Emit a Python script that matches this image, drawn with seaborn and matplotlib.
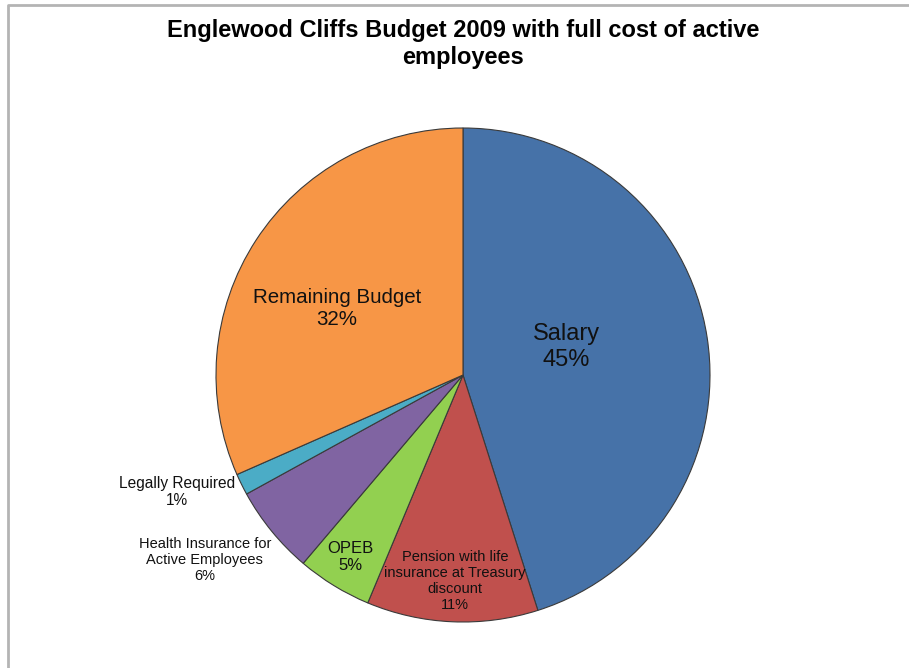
import matplotlib
matplotlib.use("Agg")
import matplotlib.pyplot as plt
from matplotlib.lines import Line2D
import seaborn as sns

categories = ["Salary", "Pension with life\ninsurance at Treasury\ndiscount", "OPEB",
              "Health Insurance for\nActive Employees", "Legally Required", "Remaining Budget"]
shares = [45.1, 11.2, 4.9, 5.8, 1.4, 31.6]
colors = ["#4672A8", "#C0504D", "#92D050", "#8064A2", "#4BACC6", "#F79646"]
title = "Englewood Cliffs Budget 2009 with full cost of active\nemployees"

sns.set_theme(style="white")
plt.rcParams["font.family"] = ["Liberation Sans", "DejaVu Sans"]

W, H = 909, 668
fig = plt.figure(figsize=(W / 100, H / 100), dpi=100)
fig.patch.set_facecolor("white")

cx, cy, r = 463, 375, 247
ax = fig.add_axes([(cx - r) / W, (H - cy - r) / H, 2 * r / W, 2 * r / H])
ax.set_aspect("equal")

wedges, _ = ax.pie(shares, colors=colors, startangle=90, counterclock=False,
                   wedgeprops=dict(edgecolor="#3a3a3a", linewidth=0.8), radius=1.0)
ax.set_xlim(-1, 1)
ax.set_ylim(-1, 1)

# label placement (in radius units) and font sizes per slice
label_pos = [(0.417, 0.113), (-0.032, -0.834), (-0.457, -0.737),
             (-1.045, -0.749), (-1.158, -0.474), (-0.510, 0.271)]
label_size = [17, 10.5, 12, 10.5, 11.2, 14.8]
for name, val, (lx, ly), fs in zip(categories, shares, label_pos, label_size):
    ax.text(lx, ly, f"{name}\n{round(val):d}%", ha="center", va="center",
            fontsize=fs, color="#111111", linespacing=1.2, clip_on=False)

fig.text(463 / W, 1 - 44 / H, title, ha="center", va="center", fontsize=17,
         fontweight="bold", color="black", linespacing=1.22)

# frame around the chart area
fig.add_artist(Line2D([8 / W, 8 / W, 1.0], [0.0, 1 - 5 / H, 1 - 5 / H],
                      transform=fig.transFigure, color="#b4b4b4", linewidth=2))

fig.savefig("out.png", dpi=100, facecolor="white")
